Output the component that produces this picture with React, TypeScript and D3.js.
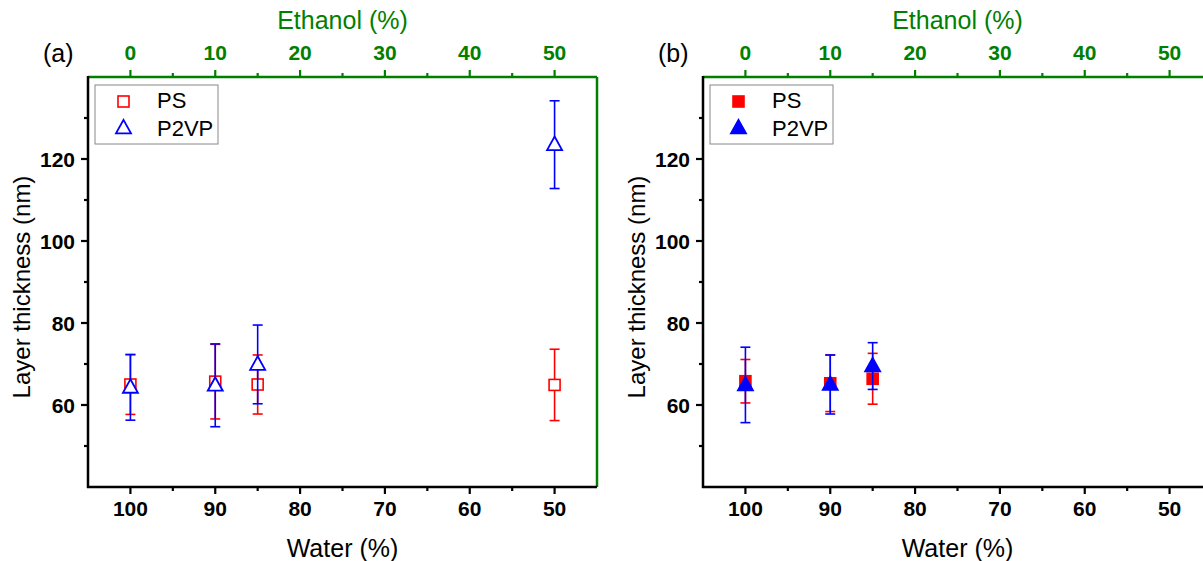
import * as d3 from 'd3';

const WATER_A = [100, 90, 85, 50];
const PS_A = [65, 65.7, 65, 64.9];
const PS_A_ERR = [7.3, 9.1, 7.2, 8.7];
const P2VP_A = [64.3, 64.8, 69.9, 123.5];
const P2VP_A_ERR = [8, 10.1, 9.6, 10.7];

const WATER_B = [100, 90, 85];
const PS_B = [65.8, 65.3, 66.4];
const PS_B_ERR = [5.3, 6.9, 6.2];
const P2VP_B = [64.9, 65, 69.5];
const P2VP_B_ERR = [9.2, 7.2, 5.7];

const WATER_TICKS = [100, 90, 80, 70, 60, 50];
const WATER_MINOR = [95, 85, 75, 65, 55];
const ETHANOL_TICKS = [0, 10, 20, 30, 40, 50];
const ETHANOL_MINOR = [5, 15, 25, 35, 45];
const Y_TICKS = [60, 80, 100, 120];
const Y_MINOR = [50, 70, 90, 110, 130];

const GREEN = '#008000';
const RED = '#ff0000';
const BLUE = '#0000ff';
const FONT = "'Liberation Sans', Arial, sans-serif";

const W = 1203;
const H = 561;
const PLOT_W = 509;
const TOP = 77;
const BOTTOM = 487;

const tri = (s: number) => {
  const h = s * 0.9;
  return `M0,${-h * 0.6}L${s / 2},${h * 0.4}L${-s / 2},${h * 0.4}Z`;
};

type PanelProps = {
  left: number;
  tag: string;
  water: number[];
  ps: number[];
  psErr: number[];
  p2vp: number[];
  p2vpErr: number[];
  filled: boolean;
};

function Panel({ left, tag, water, ps, psErr, p2vp, p2vpErr, filled }: PanelProps) {
  const right = left + PLOT_W;
  const x = d3.scaleLinear().domain([105, 45]).range([left, right]);
  const xTop = d3.scaleLinear().domain([-5, 55]).range([left, right]);
  const y = d3.scaleLinear().domain([40, 140]).range([BOTTOM, TOP]);
  const cx = (left + right) / 2;

  const errBar = (xv: number, m: number, e: number, color: string, key: string) => (
    <g key={key} stroke={color} strokeWidth={1.6}>
      <line x1={x(xv)} x2={x(xv)} y1={y(m - e)} y2={y(m + e)} />
      <line x1={x(xv) - 5} x2={x(xv) + 5} y1={y(m - e)} y2={y(m - e)} />
      <line x1={x(xv) - 5} x2={x(xv) + 5} y1={y(m + e)} y2={y(m + e)} />
    </g>
  );

  return (
    <g>
      <text x={left - 45} y={62} fontSize={25} fontFamily={FONT}>{tag}</text>

      {/* top ethanol axis */}
      <text x={cx} y={29} fontSize={25} fill={GREEN} textAnchor="middle" fontFamily={FONT}>Ethanol (%)</text>
      {ETHANOL_TICKS.map(t => (
        <g key={'et' + t}>
          <line x1={xTop(t)} x2={xTop(t)} y1={TOP} y2={TOP - 7} stroke={GREEN} strokeWidth={2.2} />
          <text x={xTop(t)} y={59.5} fontSize={21} fontWeight="bold" fill={GREEN} textAnchor="middle" fontFamily={FONT}>{t}</text>
        </g>
      ))}
      {ETHANOL_MINOR.map(t => (
        <line key={'em' + t} x1={xTop(t)} x2={xTop(t)} y1={TOP} y2={TOP - 4} stroke={GREEN} strokeWidth={2.2} />
      ))}

      {/* bottom water axis */}
      {WATER_TICKS.map(t => (
        <g key={'wt' + t}>
          <line x1={x(t)} x2={x(t)} y1={BOTTOM} y2={BOTTOM + 7} stroke="#000" strokeWidth={2.2} />
          <text x={x(t)} y={515.5} fontSize={21} fontWeight="bold" textAnchor="middle" fontFamily={FONT}>{t}</text>
        </g>
      ))}
      {WATER_MINOR.map(t => (
        <line key={'wm' + t} x1={x(t)} x2={x(t)} y1={BOTTOM} y2={BOTTOM + 4} stroke="#000" strokeWidth={2.2} />
      ))}
      <text x={cx} y={557} fontSize={25} textAnchor="middle" fontFamily={FONT}>Water (%)</text>

      {/* left axis */}
      {Y_TICKS.map(t => (
        <g key={'yt' + t}>
          <line x1={left} x2={left - 7} y1={y(t)} y2={y(t)} stroke="#000" strokeWidth={2.2} />
          <text x={left - 13} y={y(t) + 7.5} fontSize={21} fontWeight="bold" textAnchor="end" fontFamily={FONT}>{t}</text>
        </g>
      ))}
      {Y_MINOR.map(t => (
        <line key={'ym' + t} x1={left} x2={left - 4} y1={y(t)} y2={y(t)} stroke="#000" strokeWidth={2.2} />
      ))}
      <text transform={`translate(${left - 58},${287}) rotate(-90)`} fontSize={24}
        textAnchor="middle" fontFamily={FONT}>Layer thickness (nm)</text>

      {/* frame */}
      <line x1={left} x2={right} y1={TOP} y2={TOP} stroke={GREEN} strokeWidth={2.5} />
      <line x1={right} x2={right} y1={TOP} y2={BOTTOM} stroke={GREEN} strokeWidth={2.5} />
      <line x1={left - 1} x2={right} y1={BOTTOM} y2={BOTTOM} stroke="#000" strokeWidth={2.5} />
      <line x1={left} x2={left} y1={TOP - 1} y2={BOTTOM + 1} stroke="#000" strokeWidth={2.5} />

      {/* data */}
      {water.map((w, i) => (
        <g key={'d' + i}>
          {errBar(w, ps[i], psErr[i], RED, 'pe' + i)}
          <rect x={x(w) - 5.5} y={y(ps[i]) - 5.5} width={11} height={11}
            fill={filled ? RED : '#fff'} stroke={RED} strokeWidth={1.6} />
        </g>
      ))}
      {water.map((w, i) => (
        <g key={'v' + i}>
          {errBar(w, p2vp[i], p2vpErr[i], BLUE, 've' + i)}
          <path d={tri(15)} transform={`translate(${x(w)},${y(p2vp[i])})`}
            fill={filled ? BLUE : '#fff'} stroke={BLUE} strokeWidth={1.8} />
        </g>
      ))}

      {/* legend */}
      <rect x={left + 7} y={85} width={123} height={59} fill="#fff" stroke="#888" strokeWidth={1} />
      <rect x={left + 30} y={96} width={11} height={11} fill={filled ? RED : '#fff'} stroke={RED} strokeWidth={1.6} />
      <path d={tri(15)} transform={`translate(${left + 35.5},${128})`} fill={filled ? BLUE : '#fff'} stroke={BLUE} strokeWidth={1.8} />
      <text x={left + 69} y={108} fontSize={22} fontFamily={FONT}>PS</text>
      <text x={left + 69} y={136} fontSize={22} fontFamily={FONT}>P2VP</text>
    </g>
  );
}

export default function App() {
  return (
    <svg width={W} height={H} style={{ position: 'absolute', left: 0, top: 0, background: '#fff' }}>
      <Panel left={88} tag="(a)" water={WATER_A} ps={PS_A} psErr={PS_A_ERR}
        p2vp={P2VP_A} p2vpErr={P2VP_A_ERR} filled={false} />
      <Panel left={703} tag="(b)" water={WATER_B} ps={PS_B} psErr={PS_B_ERR}
        p2vp={P2VP_B} p2vpErr={P2VP_B_ERR} filled={true} />
    </svg>
  );
}
